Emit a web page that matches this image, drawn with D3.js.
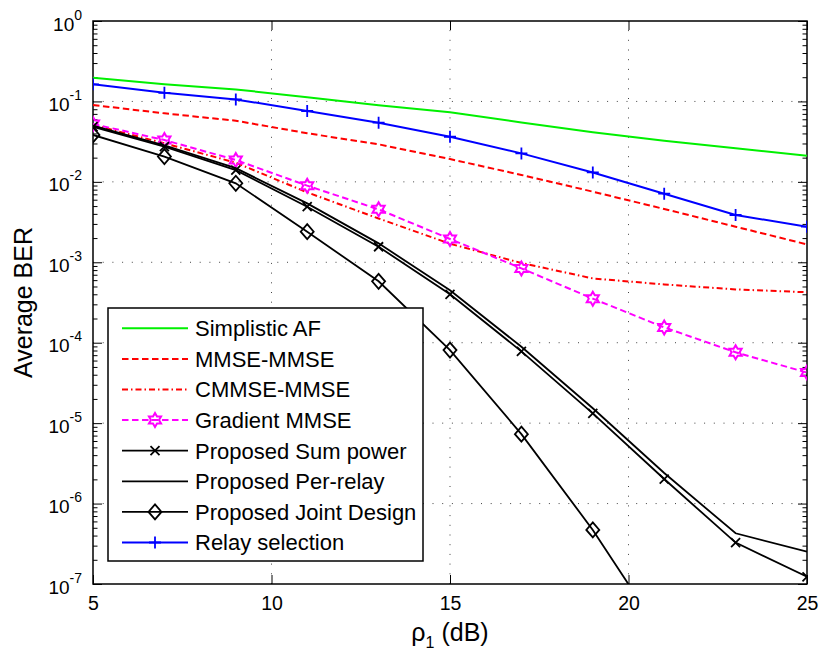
<html>
<head>
<script src="https://cdn.jsdelivr.net/npm/d3@7"></script>
<style>
  * { margin: 0; padding: 0; }
  body { background: #fff; font-family: "Liberation Sans", Arial, sans-serif; }
  svg { display: block; }
</style>
</head>
<body>
<div id="chart"></div>
<script>
// SNR points (dB)
const snr = [5, 7, 9, 11, 13, 15, 17, 19, 21, 23, 25];

// BER values
const simplisticAF = [0.197, 0.164, 0.141, 0.113, 0.0895, 0.0735, 0.0548, 0.0415, 0.0324, 0.0261, 0.0211];
const mmseMmse = [0.0903, 0.0711, 0.0576, 0.0402, 0.0293, 0.0192, 0.0122, 0.00755, 0.0046, 0.00277, 0.00167];
const cmmseMmse = [0.051, 0.0302, 0.0173, 0.0074, 0.0035, 0.0017, 0.00098, 0.00063, 0.00053, 0.00046, 0.000424];
const gradientMmse = [0.0524, 0.0331, 0.0187, 0.00897, 0.00455, 0.00195, 0.00084, 0.000353, 0.000155, 0.000076, 0.0000425];
const sumPower = [0.0485, 0.0274, 0.014, 0.00491, 0.00156, 0.0004, 0.000078, 0.0000132, 0.00000202, 0.000000327, 0.000000123];
const perRelay = [0.05, 0.0285, 0.0148, 0.0054, 0.00172, 0.00045, 0.000089, 0.0000153, 0.0000024, 0.000000427, 0.000000252];
const jointDesign = [0.0383, 0.0206, 0.0096, 0.0024, 0.00058, 0.000081, 0.0000073, 0.00000047, 0.000000021];
const relaySelection = [0.163, 0.128, 0.106, 0.076, 0.0544, 0.0364, 0.0226, 0.0131, 0.00713, 0.00387, 0.00277];

const xTicks = [5, 10, 15, 20, 25];
const yExponents = [0, -1, -2, -3, -4, -5, -6, -7];

const w = 822, h = 657;
const pLeft = 93, pRight = 807, pTop = 21, pBottom = 584;

const x = d3.scaleLinear().domain([5, 25]).range([pLeft, pRight]);
const y = d3.scaleLog().domain([1e-7, 1]).range([pBottom, pTop]);

const svg = d3.select("#chart").append("svg").attr("width", w).attr("height", h);

svg.append("defs").append("clipPath").attr("id", "plot")
  .append("rect").attr("x", pLeft).attr("y", pTop)
  .attr("width", pRight - pLeft).attr("height", pBottom - pTop);

// grid
const grid = svg.append("g").attr("stroke", "#444").attr("stroke-width", 1)
  .attr("stroke-dasharray", "1,8.7");
[10, 15, 20].forEach(v => {
  grid.append("line").attr("x1", x(v)).attr("x2", x(v)).attr("y1", pBottom).attr("y2", pTop);
});
yExponents.slice(1, -1).forEach(e => {
  grid.append("line").attr("x1", pLeft).attr("x2", pRight).attr("y1", y(Math.pow(10, e))).attr("y2", y(Math.pow(10, e)));
});

// minor tick values
const minor = [];
for (let e = -7; e < 0; e++) for (let m = 2; m <= 9; m++) minor.push(m * Math.pow(10, e));
const major = yExponents.map(e => Math.pow(10, e));

function styleAxis(g) {
  g.select(".domain").remove();
  g.selectAll(".tick line").attr("stroke", "#000").attr("stroke-width", 1);
}

// left axis with labels
const yAxisG = svg.append("g").attr("transform", `translate(${pLeft},0)`)
  .call(d3.axisLeft(y).tickValues(major).tickSize(-9).tickSizeOuter(0).tickPadding(11).tickFormat(""))
  .call(styleAxis);
yAxisG.selectAll(".tick text").each(function (d) {
  const t = d3.select(this).attr("dy", null).attr("y", 9)
    .attr("font-family", "Liberation Sans, Arial, sans-serif").attr("font-size", 19).attr("fill", "#000");
  t.append("tspan").text("10");
  t.append("tspan").attr("font-size", 14).attr("dy", -11).text(Math.round(Math.log10(d)));
});
svg.append("g").attr("transform", `translate(${pLeft},0)`)
  .call(d3.axisLeft(y).tickValues(minor).tickSize(-4.5).tickSizeOuter(0).tickFormat(""))
  .call(styleAxis);
svg.append("g").attr("transform", `translate(${pRight},0)`)
  .call(d3.axisRight(y).tickValues(major).tickSize(-9).tickSizeOuter(0).tickFormat(""))
  .call(styleAxis);
svg.append("g").attr("transform", `translate(${pRight},0)`)
  .call(d3.axisRight(y).tickValues(minor).tickSize(-4.5).tickSizeOuter(0).tickFormat(""))
  .call(styleAxis);

// x axes
const xAxisG = svg.append("g").attr("transform", `translate(0,${pBottom})`)
  .call(d3.axisBottom(x).tickValues(xTicks).tickSize(-9).tickSizeOuter(0).tickPadding(12).tickFormat(d3.format("d")))
  .call(styleAxis);
xAxisG.selectAll(".tick text").attr("font-family", "Liberation Sans, Arial, sans-serif")
  .attr("font-size", 19.5).attr("fill", "#000");
svg.append("g").attr("transform", `translate(0,${pTop})`)
  .call(d3.axisTop(x).tickValues(xTicks).tickSize(-9).tickSizeOuter(0).tickFormat(""))
  .call(styleAxis);

// box
svg.append("rect").attr("x", pLeft).attr("y", pTop).attr("width", pRight - pLeft).attr("height", pBottom - pTop)
  .attr("fill", "none").attr("stroke", "#000").attr("stroke-width", 1.5);

// markers
const hexPath = (() => {
  const R = 7, r = R / Math.sqrt(3), pts = [];
  for (let i = 0; i < 12; i++) {
    const a = -Math.PI / 2 + i * Math.PI / 6;
    const rr = i % 2 === 0 ? R : r;
    pts.push([rr * Math.cos(a), rr * Math.sin(a)]);
  }
  return "M" + pts.map(p => p[0].toFixed(2) + "," + p[1].toFixed(2)).join("L") + "Z";
})();
const markers = {
  plus: "M-6,0L6,0M0,-6L0,6",
  cross: "M-4.5,-4.5L4.5,4.5M-4.5,4.5L4.5,-4.5",
  diamond: "M0,-7.5L6.5,0L0,7.5L-6.5,0Z",
  hex: hexPath
};

const series = [
  { name: "Simplistic AF", vals: simplisticAF, color: "#00f000", width: 2, dash: null, marker: null },
  { name: "MMSE-MMSE", vals: mmseMmse, color: "#ff0000", width: 2, dash: "6.5,3.5", marker: null },
  { name: "CMMSE-MMSE", vals: cmmseMmse, color: "#ff0000", width: 2, dash: "6,3,1.5,3", marker: null },
  { name: "Gradient MMSE", vals: gradientMmse, color: "#ff00ff", width: 2, dash: "6.5,3.5", marker: "hex" },
  { name: "Proposed Sum power", vals: sumPower, color: "#000", width: 1.8, dash: null, marker: "cross" },
  { name: "Proposed Per-relay", vals: perRelay, color: "#000", width: 1.8, dash: null, marker: null },
  { name: "Proposed Joint Design", vals: jointDesign, color: "#000", width: 1.8, dash: null, marker: "diamond" },
  { name: "Relay selection", vals: relaySelection, color: "#0000ff", width: 2, dash: null, marker: "plus" }
];

const line = d3.line().x(d => x(d[0])).y(d => y(d[1]));
const plot = svg.append("g").attr("clip-path", "url(#plot)");

series.forEach(s => {
  const pts = s.vals.map((v, i) => [snr[i], v]);
  plot.append("path").datum(pts).attr("d", line)
    .attr("fill", "none").attr("stroke", s.color).attr("stroke-width", s.width)
    .attr("stroke-dasharray", s.dash);
  if (s.marker) {
    plot.selectAll(null).data(pts).enter().append("path")
      .attr("transform", d => `translate(${x(d[0])},${y(d[1])})`)
      .attr("d", markers[s.marker])
      .attr("fill", "none").attr("stroke", s.color).attr("stroke-width", s.marker === "hex" ? 2 : 1.8);
  }
});

// legend
const lg = svg.append("g");
lg.append("rect").attr("x", 108).attr("y", 308).attr("width", 315).attr("height", 253)
  .attr("fill", "#fff").attr("stroke", "#000").attr("stroke-width", 1.5);
series.forEach((s, i) => {
  const cy = 328.3 + i * 30.6;
  lg.append("line").attr("x1", 122).attr("x2", 188).attr("y1", cy).attr("y2", cy)
    .attr("stroke", s.color).attr("stroke-width", s.width).attr("stroke-dasharray", s.dash);
  if (s.marker) {
    lg.append("path").attr("transform", `translate(155,${cy})`).attr("d", markers[s.marker])
      .attr("fill", "none").attr("stroke", s.color).attr("stroke-width", s.marker === "hex" ? 2 : 1.8);
  }
  lg.append("text").attr("x", 195).attr("y", cy + 7.8).attr("font-size", 22).attr("fill", "#000")
    .text(s.name);
});

// axis labels
svg.append("text").attr("transform", "translate(32,302.5) rotate(-90)")
  .attr("text-anchor", "middle").attr("font-size", 25).attr("fill", "#000").text("Average BER");

const xl = svg.append("text").attr("x", 450).attr("y", 641).attr("text-anchor", "middle")
  .attr("font-size", 25).attr("fill", "#000");
xl.append("tspan").text("\u03C1");
xl.append("tspan").attr("font-size", 16).attr("dy", 7).text("1");
xl.append("tspan").attr("dy", -7).text(" (dB)");
</script>
</body>
</html>
